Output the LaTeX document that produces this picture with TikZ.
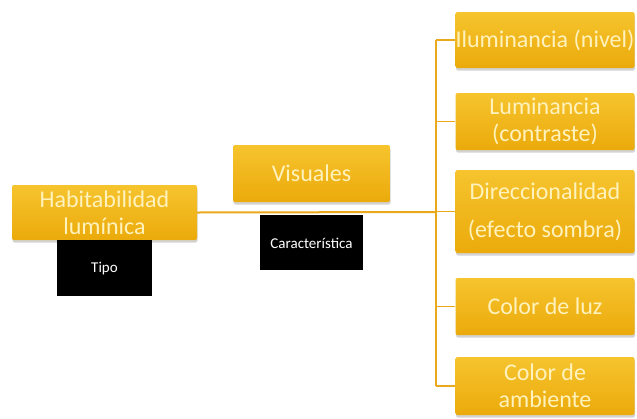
\documentclass[tikz,border=0pt]{standalone}
\usepackage{fontspec}
\setmainfont{Carlito}
\usepackage{xcolor}
\usetikzlibrary{positioning,shadows}

\definecolor{goldtop}{HTML}{F6C42E}
\definecolor{goldbot}{HTML}{EBAA0B}
\definecolor{goldline}{HTML}{E9A91A}
\definecolor{paletext}{HTML}{FFF2BC}

\tikzset{
    goldbox/.style={rectangle, rounded corners=2pt, top color=goldtop, bottom color=goldbot,
        draw=none, text=paletext, font=\fontsize{24}{27}\selectfont, align=center,
        inner sep=0pt, drop shadow={shadow xshift=0.5pt, shadow yshift=-2.5pt, opacity=0.35}},
    tagbox/.style={rectangle, fill=black, text=white, font=\fontsize{15}{18}\selectfont,
        inner sep=0pt},
    branch/.style={draw=goldline, line width=1.3pt}
}

\begin{document}
\begin{tikzpicture}[x=1pt, y=-1pt]
    \useasboundingbox (0,0) rectangle (637,418);
    \node [goldbox, minimum width=185, minimum height=55] (hab) at (104.5,212.5) {Habitabilidad\\lumínica}; % root box
    \node [tagbox, minimum width=95, minimum height=56, below=0pt of hab] (tipo) {Tipo}; % black tag under root
    \node [goldbox, minimum width=157, minimum height=57] (vis) at (311.5,173.5) {Visuales}; % middle box
    \node [tagbox, minimum width=103, minimum height=55, below=13pt of vis] (car) {Característica}; % black tag under middle
    \node [goldbox, minimum width=179, minimum height=56] (niv) at (545,40) {Iluminancia (nivel)}; % first leaf
    \node [goldbox, minimum width=179, minimum height=57] (con) at (545,121.5) {Luminancia\\(contraste)}; % second leaf
    \node [goldbox, minimum width=179, minimum height=83, font=\fontsize{24}{38}\selectfont] (dir) at (545,211.5) {Direccionalidad\\(efecto sombra)}; % third leaf
    \node [goldbox, minimum width=179, minimum height=57] (luz) at (545,306.5) {Color de luz}; % fourth leaf
    \node [goldbox, minimum width=179, minimum height=58] (amb) at (545,386) {Color de\\ambiente}; % fifth leaf
    \coordinate (sp) at (436,212); % spine meets the main line
    \begin{scope}[on background layer/.try]
        \draw [branch, line width=2pt] (hab.east) -- (sp);
        \draw [branch] (sp |- niv.west) -- (sp |- amb.west);
        \foreach \leaf in {niv,con,dir,luz,amb}
            \draw [branch] (sp |- \leaf.west) -- (\leaf.west);
    \end{scope}
\end{tikzpicture}
\end{document}
